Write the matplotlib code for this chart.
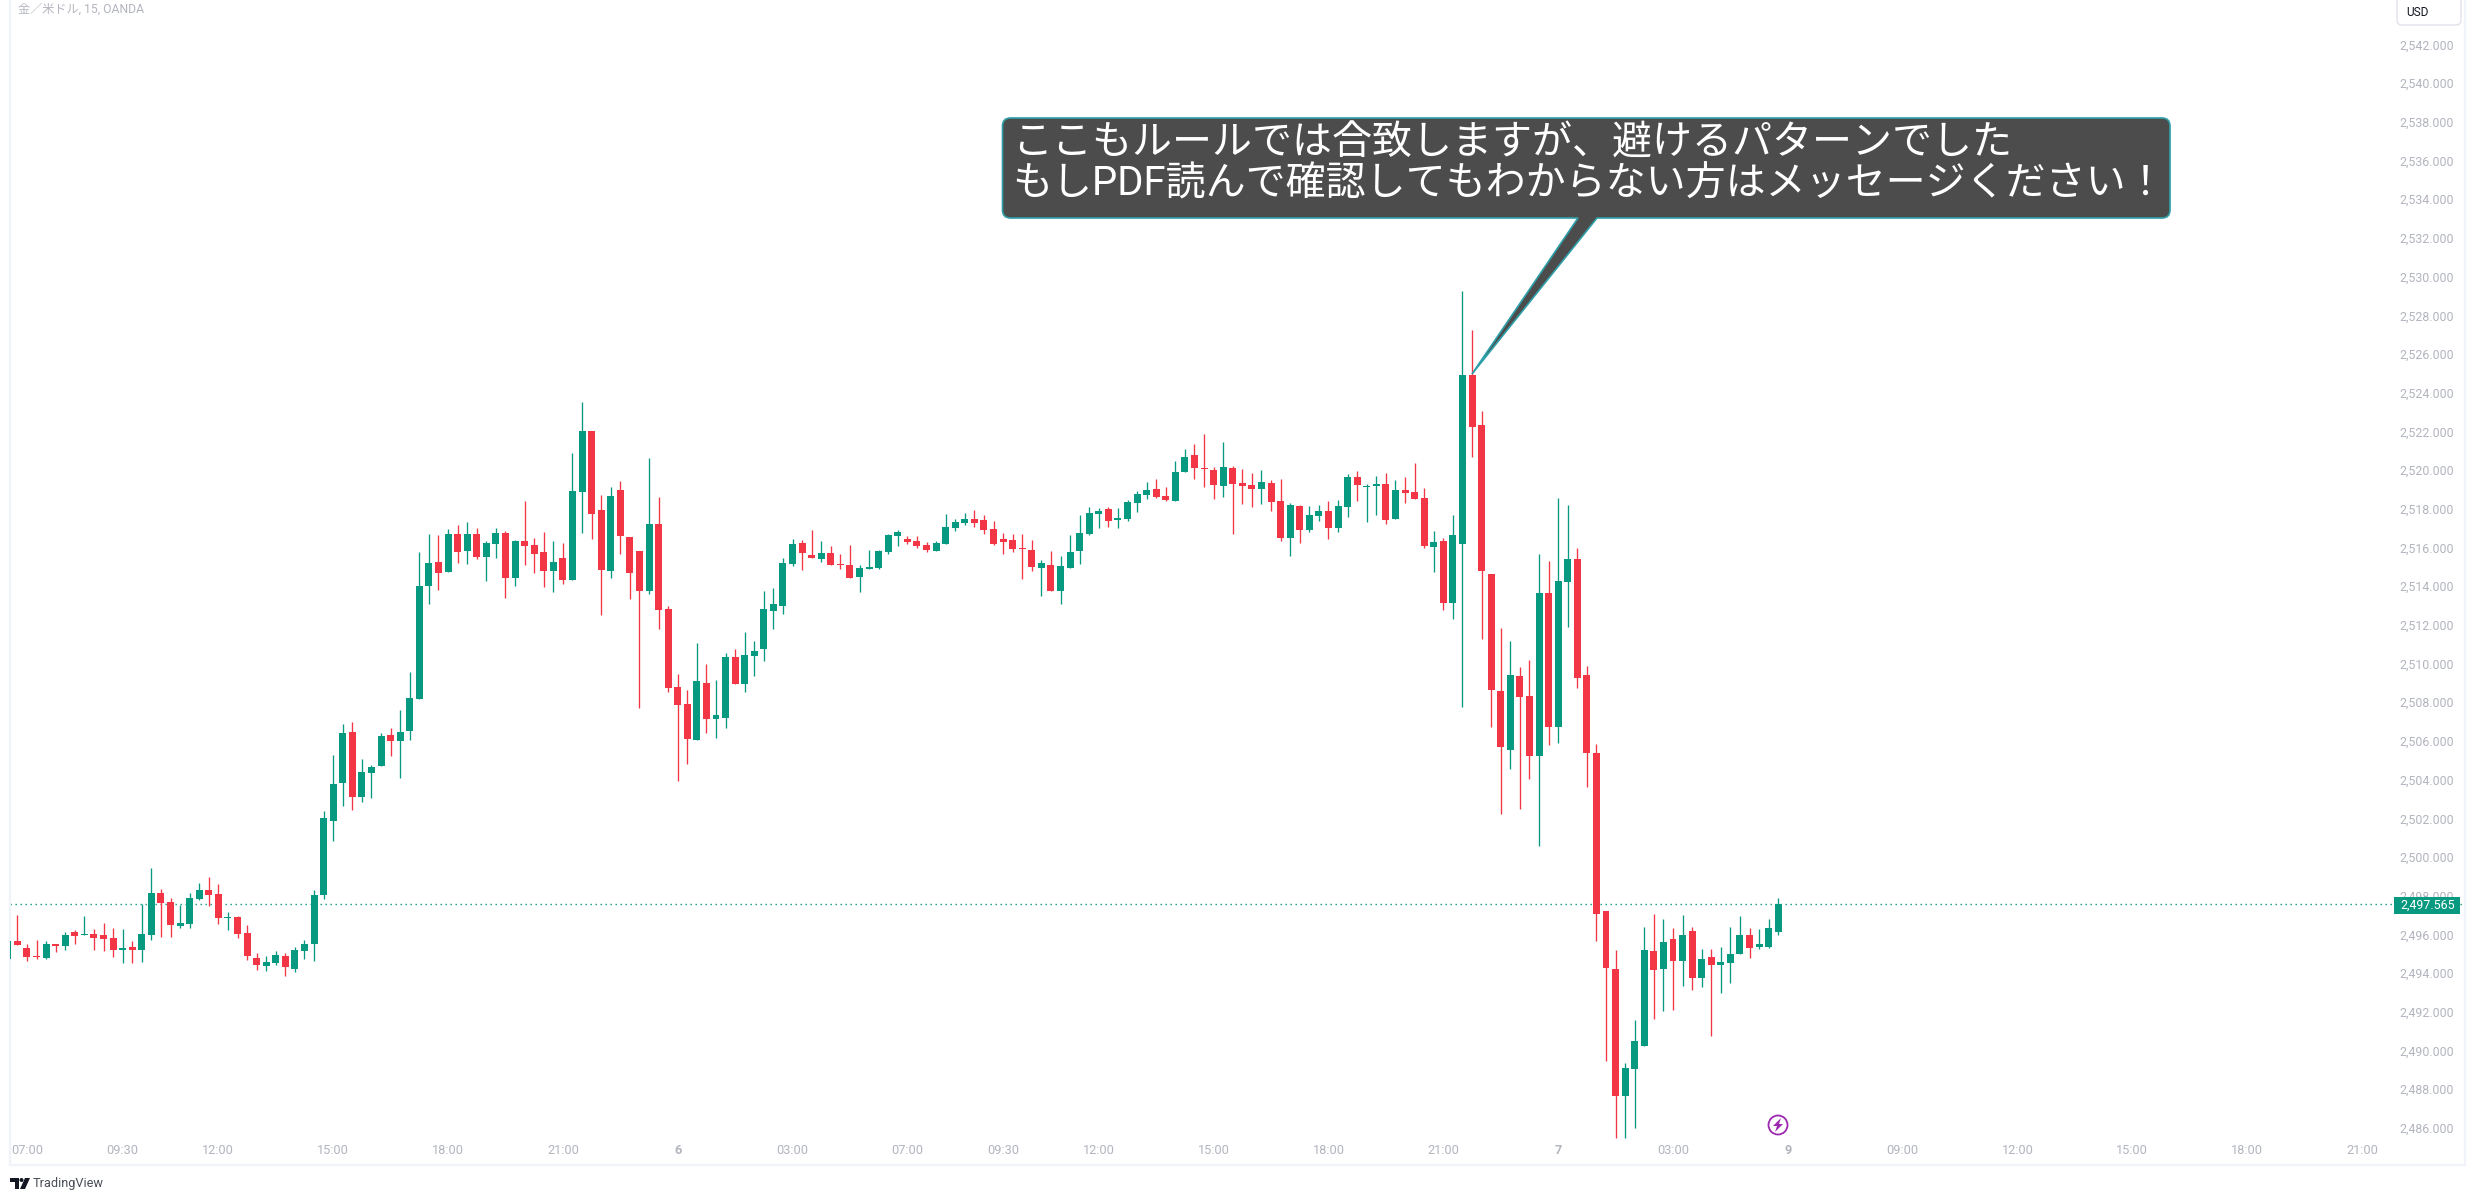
import numpy as np
import matplotlib
matplotlib.use('Agg')
import matplotlib.pyplot as plt
from matplotlib.path import Path
from matplotlib.patches import PathPatch, Circle, Polygon, Rectangle, FancyBboxPatch

plt.rcParams['font.family'] = ['Roboto', 'Noto Sans CJK JP', 'DejaVu Sans']

# 15 minute candles, first one is cut off by the left edge
opens = [2494.73,
    2495.66, 2495.30, 2494.88, 2494.78, 2495.50, 2495.40, 2496.12, 2495.97, 2496.02, 2495.97,
    2495.81, 2495.19, 2495.35, 2495.19, 2495.97, 2498.14, 2497.67, 2496.43, 2496.54, 2497.83,
    2498.29, 2498.09, 2496.85, 2496.90, 2496.07, 2494.78, 2494.37, 2494.52, 2494.88, 2494.21,
    2495.14, 2495.50, 2498.04, 2501.86, 2503.82, 2506.46, 2503.10, 2504.34, 2504.70, 2506.31,
    2506.00, 2506.51, 2508.17, 2514.01, 2515.25, 2514.73, 2516.70, 2515.82, 2516.70, 2515.51,
    2516.18, 2516.75, 2514.42, 2516.33, 2516.13, 2515.77, 2514.78, 2515.46, 2514.32, 2518.87,
    2522.02, 2517.94, 2514.78, 2518.97, 2516.54, 2515.82, 2513.75, 2517.21, 2512.82, 2508.79,
    2507.91, 2506.05, 2508.99, 2507.13, 2507.18, 2510.34, 2508.94, 2510.39, 2510.75, 2512.72,
    2512.97, 2515.15, 2516.23, 2515.61, 2515.41, 2515.72, 2515.15, 2515.09, 2514.47, 2514.89,
    2514.94, 2515.77, 2516.59, 2516.44, 2516.34, 2516.13, 2515.82, 2516.18, 2517.01, 2517.27,
    2517.47, 2517.42, 2516.96, 2516.44, 2516.39, 2515.97, 2515.87, 2514.94, 2515.09, 2513.75,
    2514.94, 2515.82, 2516.70, 2517.73, 2517.99, 2517.42, 2517.47, 2518.30, 2518.71, 2519.02,
    2518.66, 2518.40, 2519.90, 2520.78, 2520.11, 2520.01, 2519.18, 2520.11, 2519.33, 2519.23,
    2519.02, 2519.33, 2518.40, 2516.49, 2518.14, 2516.90, 2517.63, 2517.89, 2517.01, 2518.09,
    2519.64, 2519.13, 2519.18, 2519.28, 2517.47, 2518.97, 2518.87, 2518.56, 2516.03, 2516.33,
    2513.14, 2516.18, 2524.92, 2522.33, 2514.63, 2508.58, 2505.53, 2509.35, 2508.32, 2505.22,
    2513.65, 2506.71, 2514.21, 2515.41, 2509.41, 2505.38, 2497.21, 2494.21, 2487.65, 2489.04,
    2490.23, 2495.14, 2494.21, 2495.76, 2494.62, 2496.17, 2493.75, 2494.83, 2494.42, 2494.52,
    2494.99, 2495.97, 2495.35, 2495.35, 2496.12]
highs = [2495.66,
    2497.00, 2495.50, 2495.71, 2495.66, 2495.50, 2496.12, 2496.23, 2496.95, 2496.28, 2496.59,
    2496.33, 2496.28, 2495.66, 2497.57, 2499.43, 2498.35, 2497.88, 2497.52, 2498.14, 2498.66,
    2498.97, 2498.60, 2497.16, 2496.95, 2496.48, 2495.04, 2494.88, 2495.14, 2495.04, 2495.35,
    2495.71, 2498.29, 2502.38, 2505.27, 2506.87, 2506.98, 2505.07, 2504.76, 2506.41, 2506.67,
    2507.60, 2509.56, 2515.77, 2516.70, 2516.65, 2516.96, 2517.16, 2517.32, 2517.01, 2516.33,
    2517.01, 2516.85, 2516.39, 2518.40, 2516.49, 2516.80, 2516.33, 2516.23, 2520.88, 2523.52,
    2522.02, 2518.71, 2519.13, 2519.44, 2516.54, 2515.82, 2520.63, 2518.61, 2512.97, 2509.46,
    2508.63, 2511.06, 2509.98, 2509.15, 2510.54, 2510.75, 2511.63, 2511.16, 2513.75, 2513.90,
    2515.46, 2516.44, 2516.39, 2516.90, 2516.34, 2516.08, 2515.66, 2516.13, 2515.09, 2515.87,
    2515.87, 2516.70, 2516.90, 2516.59, 2516.59, 2516.28, 2516.34, 2517.73, 2517.47, 2517.78,
    2517.94, 2517.68, 2517.37, 2516.75, 2516.70, 2516.70, 2516.39, 2515.35, 2515.82, 2515.56,
    2516.65, 2517.68, 2518.09, 2518.04, 2518.09, 2518.04, 2518.46, 2518.92, 2519.39, 2519.54,
    2519.13, 2520.47, 2521.09, 2521.35, 2521.87, 2520.16, 2521.45, 2520.21, 2520.06, 2519.85,
    2520.01, 2519.49, 2519.54, 2518.30, 2518.20, 2518.14, 2518.20, 2518.40, 2518.46, 2519.80,
    2519.95, 2519.28, 2519.70, 2519.85, 2519.49, 2519.64, 2520.37, 2519.08, 2516.85, 2516.50,
    2517.68, 2529.27, 2527.24, 2523.05, 2514.63, 2511.85, 2511.16, 2509.81, 2510.18, 2515.67,
    2515.30, 2518.56, 2518.20, 2515.98, 2509.87, 2505.84, 2497.21, 2495.19, 2489.35, 2491.57,
    2496.38, 2497.05, 2496.79, 2496.33, 2497.00, 2496.38, 2495.24, 2495.24, 2495.35, 2496.38,
    2496.95, 2496.33, 2496.28, 2496.79, 2497.88]
lows = [2494.73,
    2495.45, 2494.62, 2494.73, 2494.73, 2495.09, 2495.19, 2495.50, 2495.97, 2495.19, 2495.14,
    2494.83, 2494.52, 2494.52, 2494.57, 2495.71, 2495.86, 2495.86, 2496.33, 2496.33, 2497.78,
    2497.48, 2496.54, 2496.23, 2495.81, 2494.68, 2494.16, 2494.11, 2494.42, 2493.85, 2494.05,
    2494.73, 2494.62, 2497.83, 2500.83, 2502.64, 2502.43, 2502.84, 2503.05, 2504.70, 2505.22,
    2504.08, 2506.05, 2508.17, 2513.08, 2513.80, 2514.73, 2515.20, 2515.15, 2515.40, 2514.27,
    2515.46, 2513.39, 2514.01, 2515.09, 2514.68, 2513.96, 2513.70, 2514.11, 2514.32, 2516.75,
    2516.44, 2512.51, 2514.42, 2515.66, 2513.34, 2507.70, 2513.60, 2511.79, 2508.53, 2503.93,
    2504.81, 2506.05, 2506.41, 2506.15, 2506.67, 2508.94, 2508.53, 2509.36, 2510.13, 2511.79,
    2512.56, 2515.04, 2514.84, 2515.46, 2515.25, 2515.09, 2514.89, 2514.42, 2513.70, 2514.89,
    2514.89, 2515.66, 2516.08, 2516.18, 2515.97, 2515.77, 2515.82, 2516.18, 2516.85, 2517.16,
    2517.06, 2516.70, 2516.13, 2515.66, 2515.77, 2514.37, 2514.78, 2513.49, 2513.75, 2513.08,
    2514.94, 2515.15, 2516.65, 2517.01, 2517.06, 2517.01, 2517.37, 2517.83, 2518.51, 2518.56,
    2518.40, 2518.40, 2519.90, 2519.54, 2519.13, 2518.51, 2518.61, 2516.70, 2518.25, 2518.09,
    2518.25, 2517.89, 2516.34, 2515.56, 2516.23, 2516.80, 2517.37, 2516.44, 2516.80, 2517.58,
    2518.40, 2517.32, 2517.68, 2517.21, 2517.47, 2518.30, 2518.51, 2515.97, 2514.73, 2512.77,
    2512.31, 2507.73, 2520.67, 2511.27, 2506.71, 2502.23, 2504.55, 2502.49, 2504.04, 2500.55,
    2505.79, 2505.90, 2511.88, 2508.74, 2503.61, 2495.66, 2489.45, 2485.47, 2485.47, 2485.99,
    2490.23, 2491.63, 2492.04, 2492.09, 2493.33, 2493.13, 2493.28, 2490.75, 2492.97, 2493.49,
    2494.99, 2494.78, 2495.24, 2495.30, 2495.97]
closes = [2495.66,
    2495.45, 2494.83, 2494.83, 2495.50, 2495.40, 2495.97, 2495.92, 2496.02, 2495.81, 2495.76,
    2495.19, 2495.30, 2495.19, 2496.02, 2498.14, 2497.62, 2496.48, 2496.59, 2497.88, 2498.29,
    2498.04, 2496.85, 2496.90, 2496.02, 2494.88, 2494.42, 2494.57, 2494.93, 2494.31, 2495.19,
    2495.50, 2498.04, 2502.02, 2503.77, 2506.41, 2503.10, 2504.39, 2504.65, 2506.25, 2506.00,
    2506.46, 2508.22, 2514.01, 2515.20, 2514.68, 2516.70, 2515.77, 2516.70, 2515.51, 2516.23,
    2516.75, 2514.42, 2516.33, 2516.08, 2515.66, 2514.78, 2515.25, 2514.32, 2518.92, 2522.02,
    2517.73, 2514.84, 2518.66, 2516.59, 2514.68, 2513.75, 2517.21, 2512.77, 2508.74, 2507.86,
    2506.10, 2509.10, 2507.13, 2507.34, 2510.34, 2508.94, 2510.44, 2510.65, 2512.82, 2513.08,
    2515.20, 2516.18, 2515.71, 2515.46, 2515.72, 2515.09, 2515.09, 2514.42, 2514.94, 2514.99,
    2515.82, 2516.65, 2516.80, 2516.28, 2516.08, 2515.87, 2516.23, 2517.06, 2517.32, 2517.47,
    2517.27, 2516.90, 2516.18, 2516.28, 2515.92, 2515.92, 2514.99, 2515.20, 2513.75, 2515.04,
    2515.77, 2516.75, 2517.78, 2517.89, 2517.37, 2517.52, 2518.35, 2518.77, 2518.97, 2518.61,
    2518.46, 2519.90, 2520.68, 2520.11, 2520.06, 2519.23, 2520.16, 2519.28, 2519.18, 2519.02,
    2519.39, 2518.35, 2516.49, 2518.20, 2516.90, 2517.68, 2517.89, 2517.01, 2518.14, 2519.64,
    2519.23, 2519.18, 2519.28, 2517.42, 2518.97, 2518.82, 2518.51, 2516.08, 2516.28, 2513.14,
    2516.65, 2524.92, 2522.22, 2514.78, 2508.63, 2505.68, 2509.41, 2508.26, 2505.22, 2513.65,
    2506.71, 2514.26, 2515.41, 2509.26, 2505.38, 2497.05, 2494.26, 2487.65, 2489.09, 2490.49,
    2495.19, 2494.16, 2495.61, 2494.62, 2495.97, 2493.75, 2494.73, 2494.42, 2494.57, 2494.99,
    2495.97, 2495.30, 2495.50, 2496.33, 2497.565]

last_price = 2497.565
price_ticks = list(range(2486, 2543, 2))
time_labels = ['07:00', '09:30', '12:00', '15:00', '18:00', '21:00', '6', '03:00', '07:00', '09:30', '12:00',
               '15:00', '18:00', '21:00', '7', '03:00', '9', '09:00', '12:00', '15:00', '18:00', '21:00']
time_bars = [1, 11, 21, 33, 45, 57, 69, 81, 93, 103, 113, 125, 137, 149, 161, 173, 185, 197, 209, 221, 233, 245]
note_lines = ['ここもルールでは合致しますが、避けるパターンでした',
              'もしPDF読んで確認してもわからない方はメッセージください！']

UP = '#089981'
DOWN = '#F23645'
TXT = '#B2B5BE'
EDGE = '#F0F3FA'

fig = plt.figure(figsize=(24.75, 12.01), dpi=100, facecolor='white')
ax = fig.add_axes([10 / 2475, 36 / 1201, 2455 / 2475, 1165 / 1201])

# candles
bars = np.arange(len(opens)) - 1
o, h, l, c = map(np.array, (opens, highs, lows, closes))
cols = np.where(c >= o, UP, DOWN)
ax.axhline(last_price, color=UP, lw=1.0, ls=(0, (1, 2.6)), zorder=1)
ax.vlines(bars, l, h, colors=cols, lw=0.95, zorder=2)
ax.bar(bars, np.abs(c - o), bottom=np.minimum(o, c), width=0.73, color=cols, lw=0, zorder=3)

ax.set_xlim(-0.773, 255.76)
ax.set_ylim(2484.08, 2544.30)
for s in ['left', 'right', 'bottom']:
    ax.spines[s].set_color(EDGE)
    ax.spines[s].set_linewidth(1.6)
ax.spines['top'].set_visible(False)

ax.set_xticks(time_bars)
ax.set_xticklabels(time_labels)
ax.tick_params(axis='x', length=0, pad=-15, labelsize=9.2, labelcolor=TXT)
for lab in ax.get_xticklabels():
    if len(lab.get_text()) == 1:
        lab.set_fontweight('bold')
ax.yaxis.tick_right()
ax.set_yticks(price_ticks)
ax.set_yticklabels([f'{v:,.3f}' for v in price_ticks], ha='right')
ax.tick_params(axis='y', length=0, pad=-8, labelsize=8.9, labelcolor=TXT)

# overlay in pixels for the drawn-on stuff
ov = fig.add_axes([0, 0, 1, 1], facecolor='none')
ov.set_xlim(0, 2475)
ov.set_ylim(1201, 0)
ov.axis('off')

# callout
x0, x1, y0, y1, r = 1002.5, 2170, 118, 218, 8
verts = [(x0 + r, y0), (x1 - r, y0), (x1, y0), (x1, y0 + r), (x1, y1 - r), (x1, y1), (x1 - r, y1),
         (1597, y1), (1472, 374), (1578, y1),
         (x0 + r, y1), (x0, y1), (x0, y1 - r), (x0, y0 + r), (x0, y0), (x0 + r, y0)]
codes = [Path.MOVETO, Path.LINETO, Path.CURVE3, Path.CURVE3, Path.LINETO, Path.CURVE3, Path.CURVE3,
         Path.LINETO, Path.LINETO, Path.LINETO,
         Path.LINETO, Path.CURVE3, Path.CURVE3, Path.LINETO, Path.CURVE3, Path.CURVE3]
ov.add_patch(PathPatch(Path(verts, codes), fc='#4C4C4C', ec='#2E9FA8', lw=1.2, zorder=5))
ov.text(1012, 143, note_lines[0], color='white', fontsize=28.8, va='center', ha='left', zorder=6)
ov.text(1012, 184, note_lines[1], color='white', fontsize=28.8, va='center', ha='left', zorder=6)

# last price tag and currency box
ov.add_patch(Rectangle((2394, 897), 66, 17, fc=UP, ec='none', zorder=5))
ov.text(2455, 905.5, f'{last_price:,.3f}', color='white', fontsize=8.9, ha='right', va='center', zorder=6)
ov.add_patch(FancyBboxPatch((2397, -8), 64, 33, boxstyle='round,pad=0,rounding_size=5',
                            fc='white', ec='#E0E3EB', lw=1, zorder=5))
ov.text(2406, 12, 'USD', color='#131722', fontsize=8.6, ha='left', va='center', zorder=6)

ov.text(18, 9, '金／米ドル, 15, OANDA', color=TXT, fontsize=8.7, ha='left', va='center')

# lightning marker
ov.add_patch(Circle((1778, 1125), 9.5, fc='white', ec='#9C27B0', lw=1.3, zorder=5))
ov.add_patch(Polygon([(1781, 1118), (1773, 1126), (1777, 1126), (1775, 1132), (1783, 1124), (1779, 1124)],
                     fc='#9C27B0', ec='none', zorder=6))

# TradingView logo
ov.add_patch(Polygon([(10, 1178), (19, 1178), (19, 1189), (15, 1189), (15, 1182), (10, 1182)], fc='#131722', ec='none'))
ov.add_patch(Circle((21.5, 1180), 2, fc='#131722', ec='none'))
ov.add_patch(Polygon([(25, 1178), (30, 1178), (25, 1189), (20, 1189)], fc='#131722', ec='none'))
ov.text(33, 1183.5, 'TradingView', color='#4A4E58', fontsize=9.2, ha='left', va='center')

fig.savefig('out.png', dpi=100, facecolor='white')
